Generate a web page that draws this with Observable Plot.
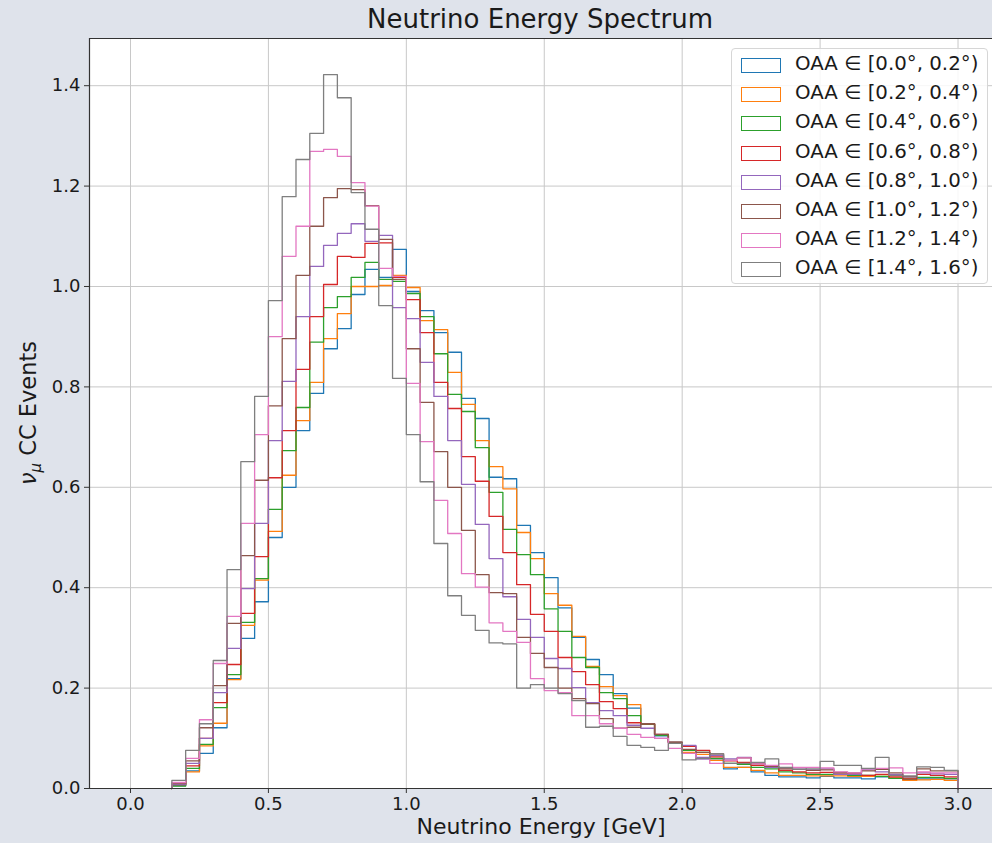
<!DOCTYPE html>
<html><head><meta charset="utf-8">
<script src="https://cdn.jsdelivr.net/npm/d3@7"></script>
<script src="https://cdn.jsdelivr.net/npm/@observablehq/plot@0.6"></script>
<style>
html,body{margin:0;padding:0;background:#dfe3eb;}
#wrap{position:relative;width:992px;height:843px;background:#dfe3eb;font-family:"DejaVu Sans",sans-serif;color:#1a1a1a;overflow:hidden;}
#chart{position:absolute;left:0;top:0;}
#title{position:absolute;left:89px;width:902px;top:3px;text-align:center;font-size:26px;line-height:32px;}
#ylabel{position:absolute;left:30px;top:413px;transform:translate(-50%,-50%) rotate(-90deg);white-space:nowrap;font-size:22.5px;}
#legend{position:absolute;left:731px;top:48px;width:257px;height:236px;box-sizing:border-box;background:rgba(255,255,255,0.85);border:1px solid #d6d6d6;border-radius:4px;}
.row{position:absolute;left:0;width:100%;height:29px;}
.patch{position:absolute;left:9px;top:8px;width:38px;height:13px;border:1.3px solid;background:#fff;}
.lab{position:absolute;left:63px;top:-1px;line-height:29px;font-size:19.8px;white-space:nowrap;}
</style></head>
<body>
<div id="wrap">
  <div id="chart"></div>
  <div id="title">Neutrino Energy Spectrum</div>
  <div id="ylabel"><i>ν</i><sub style="font-size:15px"><i>μ</i></sub> CC Events</div>
  <div id="legend"></div>
</div>
<script>
// ---- data ----
const binStart = 0.15;           // GeV, first filled bin edge
const binWidth = 0.05;           // GeV
const xTicks = [0, 0.5, 1.0, 1.5, 2.0, 2.5, 3.0];
const yTicks = [0, 0.2, 0.4, 0.6, 0.8, 1.0, 1.2, 1.4];
const seriesLabels = [
  "OAA ∈ [0.0°, 0.2°)", "OAA ∈ [0.2°, 0.4°)", "OAA ∈ [0.4°, 0.6°)", "OAA ∈ [0.6°, 0.8°)",
  "OAA ∈ [0.8°, 1.0°)", "OAA ∈ [1.0°, 1.2°)", "OAA ∈ [1.2°, 1.4°)", "OAA ∈ [1.4°, 1.6°)"
];
const seriesColors = ["#1f77b4","#ff7f0e","#2ca02c","#d62728","#9467bd","#8c564b","#e377c2","#7f7f7f"];

// bin contents, bins of 0.05 GeV from 0.15 to 3.0 GeV
const oaa00 = [0.006,0.035,0.070,0.121,0.219,0.299,0.372,0.500,0.600,0.713,0.787,0.876,0.916,0.984,1.034,1.018,1.074,
  0.990,0.952,0.908,0.869,0.777,0.737,0.620,0.617,0.524,0.470,0.420,0.360,0.301,0.257,0.227,0.189,0.160,0.128,0.105,0.092,
  0.070,0.059,0.059,0.039,0.042,0.033,0.026,0.023,0.023,0.021,0.024,0.021,0.021,0.019,0.023,0.020,0.017,0.019,0.019,0.019];
const oaa02 = [0.008,0.033,0.085,0.130,0.217,0.325,0.415,0.512,0.624,0.733,0.809,0.896,0.946,1.000,1.000,1.002,1.022,
  0.998,0.932,0.914,0.829,0.765,0.693,0.641,0.597,0.510,0.458,0.388,0.365,0.303,0.243,0.203,0.185,0.167,0.128,0.107,0.092,
  0.072,0.068,0.056,0.042,0.042,0.036,0.031,0.026,0.026,0.025,0.025,0.025,0.024,0.024,0.024,0.021,0.016,0.017,0.018,0.016];
const oaa04 = [0.005,0.040,0.088,0.161,0.227,0.331,0.418,0.556,0.673,0.759,0.889,0.958,0.980,1.018,1.048,1.014,1.010,
  0.986,0.940,0.866,0.785,0.751,0.679,0.590,0.516,0.466,0.426,0.358,0.313,0.261,0.241,0.191,0.179,0.145,0.128,0.106,0.092,
  0.076,0.072,0.060,0.050,0.048,0.042,0.039,0.033,0.031,0.028,0.028,0.031,0.026,0.026,0.024,0.020,0.019,0.022,0.022,0.020];
const oaa06 = [0.008,0.045,0.100,0.171,0.247,0.349,0.462,0.619,0.713,0.835,0.940,1.004,1.060,1.058,1.086,1.087,1.018,
  0.974,0.908,0.809,0.757,0.661,0.612,0.542,0.470,0.406,0.347,0.313,0.261,0.233,0.207,0.173,0.159,0.131,0.129,0.108,0.092,
  0.084,0.076,0.063,0.055,0.052,0.046,0.044,0.036,0.033,0.031,0.032,0.031,0.029,0.026,0.028,0.023,0.019,0.028,0.026,0.023];
const oaa08 = [0.008,0.050,0.100,0.191,0.279,0.398,0.528,0.693,0.811,0.940,1.040,1.082,1.106,1.125,1.090,1.102,0.958,
  0.936,0.849,0.781,0.693,0.606,0.526,0.458,0.382,0.337,0.301,0.259,0.239,0.201,0.171,0.155,0.145,0.126,0.120,0.100,0.092,
  0.086,0.062,0.066,0.059,0.062,0.050,0.042,0.041,0.041,0.037,0.039,0.028,0.028,0.037,0.033,0.028,0.023,0.031,0.029,0.028];
const oaa10 = [0.010,0.055,0.121,0.205,0.329,0.464,0.614,0.762,0.896,1.022,1.120,1.177,1.195,1.193,1.161,1.094,1.014,
  0.876,0.769,0.671,0.600,0.514,0.426,0.390,0.388,0.301,0.269,0.241,0.200,0.179,0.169,0.139,0.120,0.122,0.129,0.108,0.092,
  0.078,0.072,0.069,0.056,0.061,0.049,0.044,0.039,0.038,0.036,0.037,0.032,0.031,0.035,0.038,0.031,0.023,0.039,0.035,0.035];
const oaa12 = [0.012,0.060,0.137,0.249,0.343,0.528,0.705,0.900,1.060,1.120,1.269,1.273,1.259,1.207,1.160,1.036,1.020,
  0.807,0.691,0.574,0.508,0.428,0.401,0.330,0.313,0.291,0.219,0.195,0.191,0.145,0.145,0.129,0.120,0.108,0.102,0.100,0.080,
  0.070,0.059,0.050,0.056,0.061,0.049,0.046,0.049,0.042,0.042,0.041,0.033,0.031,0.039,0.040,0.041,0.031,0.033,0.031,0.031];
const oaa14 = [0.016,0.076,0.129,0.255,0.436,0.651,0.781,0.972,1.179,1.253,1.305,1.422,1.376,1.187,1.114,0.962,0.817,
  0.705,0.611,0.488,0.384,0.345,0.315,0.290,0.288,0.200,0.207,0.200,0.189,0.175,0.122,0.124,0.104,0.086,0.082,0.076,0.090,
  0.057,0.060,0.069,0.050,0.050,0.052,0.059,0.042,0.038,0.039,0.054,0.046,0.046,0.040,0.062,0.026,0.025,0.043,0.042,0.036];

const seriesValues = [oaa00, oaa02, oaa04, oaa06, oaa08, oaa10, oaa12, oaa14];

// step outline points (histtype="step"), built from the arrays above
const rows = [];
seriesValues.forEach((vals, s) => {
  const lab = seriesLabels[s];
  rows.push({series: lab, x: binStart, y: 0});
  vals.forEach((v, i) => rows.push({series: lab, x: binStart + i * binWidth, y: v}));
  const xEnd = binStart + vals.length * binWidth;
  rows.push({series: lab, x: xEnd, y: vals[vals.length - 1]});
  rows.push({series: lab, x: xEnd, y: 0});
});

const xMin = -0.1486, xMax = 3.125, yMax = 1.494;
const ink = "#1a1a1a";

const chart = Plot.plot({
  width: 992, height: 843,
  marginLeft: 89, marginRight: 0, marginTop: 38, marginBottom: 55,
  style: {background: "transparent", fontFamily: "DejaVu Sans, sans-serif", color: ink, overflow: "visible"},
  x: {domain: [xMin, xMax]},
  y: {domain: [0, yMax]},
  color: {domain: seriesLabels, range: seriesColors},
  marks: [
    Plot.frame({fill: "white", stroke: "none"}),
    Plot.gridX(xTicks, {stroke: "#c8c8c8", strokeOpacity: 1, strokeWidth: 1}),
    Plot.gridY(yTicks, {stroke: "#c8c8c8", strokeOpacity: 1, strokeWidth: 1}),
    Plot.line(rows, {x: "x", y: "y", z: "series", stroke: "series", curve: "step-after", strokeWidth: 1.3}),
    Plot.ruleX([xMin], {stroke: "#333", strokeWidth: 1.2}),
    Plot.ruleY([0], {stroke: "#333", strokeWidth: 1.2}),
    Plot.ruleY([yMax], {stroke: "#333", strokeWidth: 1.2}),
    Plot.axisX(xTicks, {tickFormat: d3.format(".1f"), tickSize: 5, tickPadding: 4, fontSize: 18, label: null, stroke: "#333"}),
    Plot.axisY(yTicks, {tickFormat: d3.format(".1f"), tickSize: 5, tickPadding: 4, fontSize: 18, label: null, stroke: "#333"}),
    Plot.text(["Neutrino Energy [GeV]"], {frameAnchor: "bottom", dy: 45, fontSize: 22, fill: ink})
  ]
});
document.getElementById("chart").appendChild(chart);

// legend
const legend = document.getElementById("legend");
seriesLabels.forEach((lab, i) => {
  const row = document.createElement("div");
  row.className = "row";
  row.style.top = (1 + i * 29.2) + "px";
  const patch = document.createElement("div");
  patch.className = "patch";
  patch.style.borderColor = seriesColors[i];
  const t = document.createElement("div");
  t.className = "lab";
  t.textContent = lab;
  row.appendChild(patch); row.appendChild(t);
  legend.appendChild(row);
});
</script>
</body></html>
